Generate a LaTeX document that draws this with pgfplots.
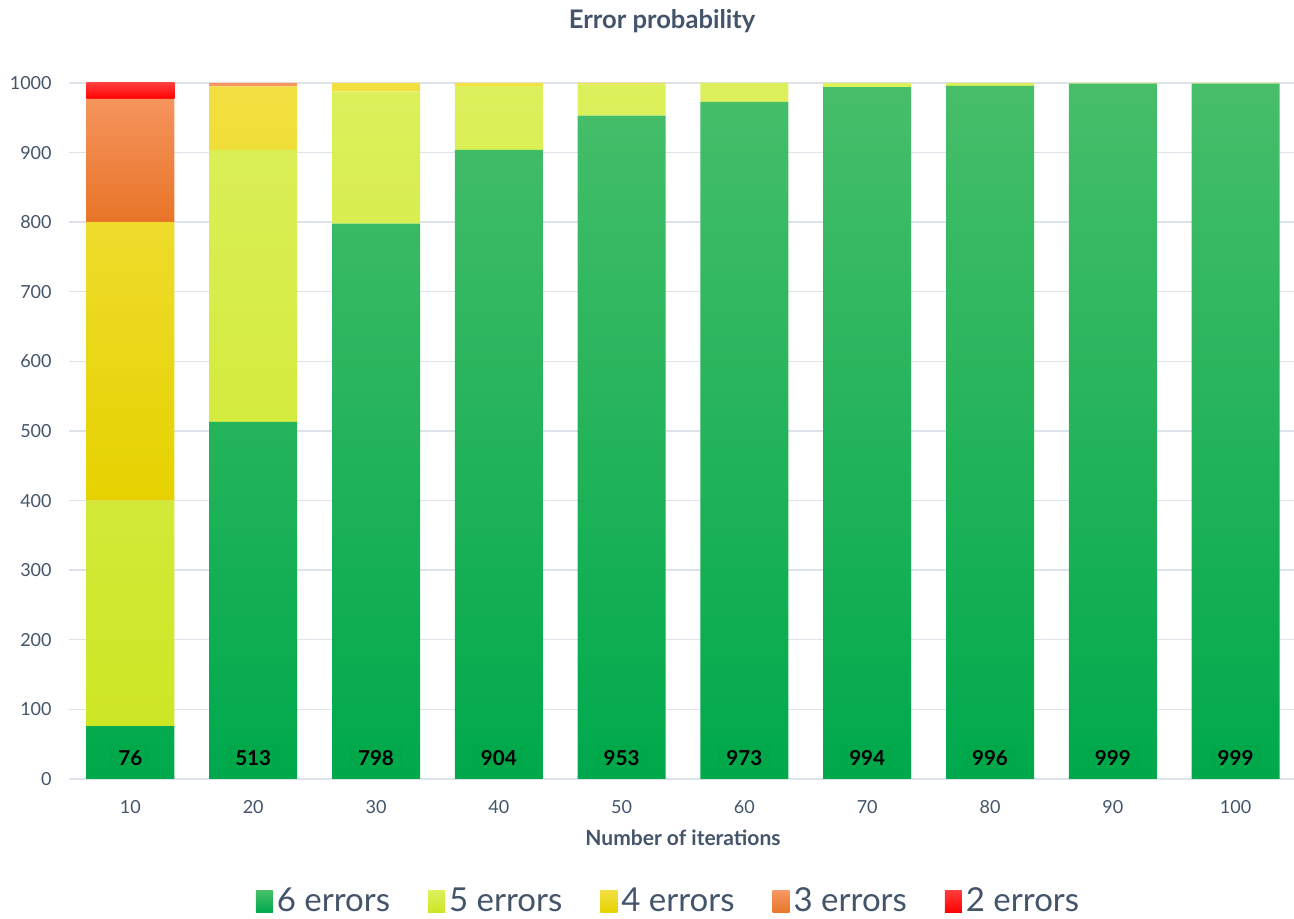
\documentclass[border=0pt]{standalone}
\usepackage{fontspec}
\setmainfont{Lato}
\usepackage{pgfplots}
\pgfplotsset{compat=1.18}
\usepackage{pgfplotstable}

\definecolor{txt}{RGB}{68,84,106}
\definecolor{gridc}{RGB}{221,227,234}
\definecolor{gA}{RGB}{71,190,106}
\definecolor{gB}{RGB}{0,182,80}
\definecolor{gC}{RGB}{0,169,76}
\definecolor{glow}{RGB}{0,168,74}
\definecolor{yA}{RGB}{220,240,92}
\definecolor{yB}{RGB}{220,249,55}
\definecolor{yC}{RGB}{205,230,36}
\definecolor{oA}{RGB}{242,224,66}
\definecolor{oB}{RGB}{245,228,0}
\definecolor{oC}{RGB}{230,210,0}
\definecolor{rA}{RGB}{247,152,100}
\definecolor{rB}{RGB}{250,138,60}
\definecolor{rC}{RGB}{232,117,40}
\definecolor{dA}{RGB}{255,60,60}
\definecolor{dB}{RGB}{255,30,30}
\definecolor{dC}{RGB}{255,0,0}

\pgfplotstableread{
x six five four three two labely
0 76 324 400 177 23 30
1 513 391 91 5 0 30
2 798 190 12 0 0 30
3 904 92 4 0 0 30
4 953 45 2 0 0 30
5 973 27 0 0 0 30
6 994 6 0 0 0 30
7 996 4 0 0 0 30
8 999 1 0 0 0 30
9 999 1 0 0 0 30
}\data

\pgfplotsset{common/.style={
  scale only axis, width=614pt, height=348pt,
  xmin=-0.5, xmax=9.5, ymin=0, ymax=1000,
  at={(0pt,0pt)}, anchor=south west}}

\begin{document}
\begin{tikzpicture}
\path[use as bounding box] (-34.5pt,-70pt) rectangle (612.5pt,389.5pt);
\begin{axis}[
  common,
  ybar stacked, bar width=44pt,
  xtick={0,...,9}, xticklabels={10,20,30,40,50,60,70,80,90,100},
  ytick={0,100,...,1000},
  ymajorgrids, grid style={draw=gridc, line width=0.7pt},
  axis line style={draw=none},
  tick style={draw=none},
  /pgf/number format/assume math mode=true,
  /pgf/number format/1000 sep={},
  xticklabel style={font=\fontsize{9}{10}\selectfont, text=txt, anchor=center, inner sep=0pt, yshift=-14pt},
  yticklabel style={font=\fontsize{9}{10}\selectfont, text=txt, anchor=east, inner sep=0pt, xshift=-8.5pt},
  title={\bfseries Error probability},
  title style={at={(axis description cs:0.483,1)}, anchor=south, yshift=15.5pt, font=\fontsize{12.8}{14}\selectfont, text=txt},
  xlabel={\bfseries Number of iterations},
  xlabel style={at={(axis description cs:0.5,0)}, anchor=center, yshift=-29.5pt, font=\fontsize{10.5}{12}\selectfont, text=txt},
  legend style={at={(axis description cs:0.489,-0.176)}, anchor=center, draw=none, fill=none,
    font=\fontsize{16.5}{18}\selectfont, text=txt,
    /tikz/every even column/.append style={column sep=17pt}},
  legend columns=5,
  legend image code/.code={\path[#1,draw=none] (0pt,-5.5pt) rectangle (8.5pt,5.5pt);},
  clip=false,
]
\addplot[draw=none, top color=gA, middle color=gB, bottom color=gC] table[x=x,y=six]{\data};
\addlegendentry{6 errors}
\addplot[draw=none, top color=yA, middle color=yB, bottom color=yC] table[x=x,y=five]{\data};
\addlegendentry{5 errors}
\addplot[draw=none, top color=oA, middle color=oB, bottom color=oC] table[x=x,y=four]{\data};
\addlegendentry{4 errors}
\addplot[draw=none, top color=rA, middle color=rB, bottom color=rC] table[x=x,y=three]{\data};
\addlegendentry{3 errors}
\addplot[draw=none, top color=dA, middle color=dB, bottom color=dC] table[x=x,y=two]{\data};
\addlegendentry{2 errors}
\end{axis}
\begin{axis}[
  common, hide axis, clip=false,
]
\addplot[only marks, mark=none, point meta=explicit,
  nodes near coords,
  nodes near coords style={anchor=center, fill=glow, inner xsep=4pt, inner ysep=3pt,
    font=\bfseries\fontsize{10.3}{12}\selectfont, text=black,
    /pgf/number format/assume math mode=true}]
  table[x=x,y=labely,meta=six]{\data};
\end{axis}
\end{tikzpicture}
\end{document}
